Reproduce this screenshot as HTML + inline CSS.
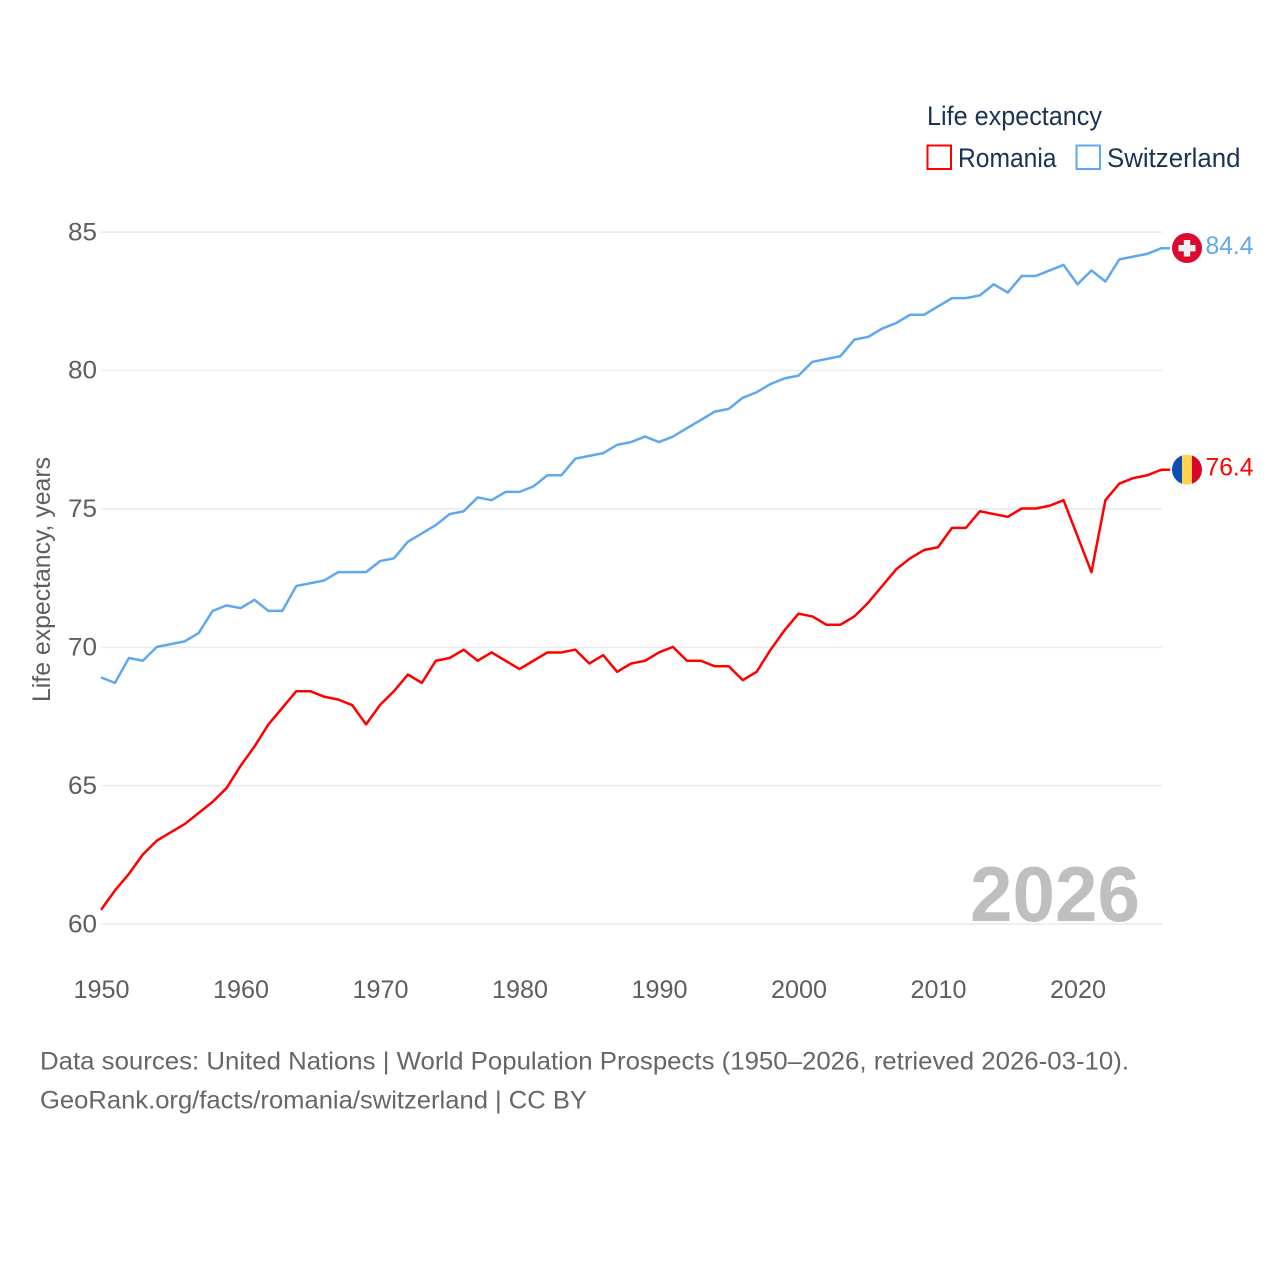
<!DOCTYPE html>
<html lang="en">
<head>
<meta charset="utf-8">
<title>Life expectancy: Romania and Switzerland</title>
<style>
html,body{margin:0;padding:0;background:#fff;width:1280px;height:1280px;overflow:hidden}
svg{display:block}
text{font-family:"Liberation Sans",sans-serif}
.tick{font-size:25px;fill:#5e5e5e}
.foot{font-size:25px;fill:#666}
.leg{font-size:27px;fill:#1a3354}
</style>
</head>
<body>
<svg id="chart" xmlns="http://www.w3.org/2000/svg" width="1280" height="1280" viewBox="0 0 1280 1280">
  <defs>
    <clipPath id="flag-clip-ro"><circle cx="1187" cy="469.6" r="15"/></clipPath>
  </defs>
  <rect x="0" y="0" width="1280" height="1280" fill="#fff"/>
  <g id="grid"></g>
  <text x="970" y="921" font-size="78" font-weight="700" fill="#bfbfbf" textLength="170" lengthAdjust="spacingAndGlyphs">2026</text>
  <g id="y-ticks"></g>
  <g id="x-ticks"></g>
  <text class="tick" transform="translate(50,702) rotate(-90)" textLength="245" lengthAdjust="spacingAndGlyphs">Life expectancy, years</text>
  <g id="series"></g>

  <g id="flag-ch">
    <circle cx="1187" cy="248" r="15" fill="#dc0a2e"/>
    <rect x="1178.5" y="245" width="17" height="6.4" fill="#f0f0f0"/>
    <rect x="1183.8" y="240" width="6.4" height="16.5" fill="#f0f0f0"/>
  </g>
  <g id="flag-ro" clip-path="url(#flag-clip-ro)">
    <rect x="1172" y="454" width="10" height="31" fill="#0b4fb3"/>
    <rect x="1182" y="454" width="10" height="31" fill="#ffd24f"/>
    <rect x="1192" y="454" width="10" height="31" fill="#d8042c"/>
  </g>

  <g>
    <text class="leg" x="927" y="125" textLength="175" lengthAdjust="spacingAndGlyphs">Life expectancy</text>
    <g>
      <rect x="927.5" y="145.5" width="23.5" height="23.5" fill="#fff" stroke="#ff0000" stroke-width="2"/>
      <text class="leg" x="958" y="167" textLength="98.5" lengthAdjust="spacingAndGlyphs">Romania</text>
    </g>
    <g>
      <rect x="1076.5" y="145.5" width="23.5" height="23.5" fill="#fff" stroke="#5fa8ee" stroke-width="2"/>
      <text class="leg" x="1107" y="167" textLength="133.5" lengthAdjust="spacingAndGlyphs">Switzerland</text>
    </g>
  </g>

  <text class="foot" x="40" y="1069.5" textLength="1089" lengthAdjust="spacingAndGlyphs">Data sources: United Nations | World Population Prospects (1950–2026, retrieved 2026-03-10).</text>
  <text class="foot" x="40" y="1108.5" textLength="547" lengthAdjust="spacingAndGlyphs">GeoRank.org/facts/romania/switzerland | CC BY</text>
</svg>
<script>
const firstYear = 1950;
const romaniaValues = [60.5,61.2,61.8,62.5,63.0,63.3,63.6,64.0,64.4,64.9,65.7,66.4,67.2,67.8,68.4,68.4,68.2,68.1,67.9,67.2,67.9,68.4,69.0,68.7,69.5,69.6,69.9,69.5,69.8,69.5,69.2,69.5,69.8,69.8,69.9,69.4,69.7,69.1,69.4,69.5,69.8,70.0,69.5,69.5,69.3,69.3,68.8,69.1,69.9,70.6,71.2,71.1,70.8,70.8,71.1,71.6,72.2,72.8,73.2,73.5,73.6,74.3,74.3,74.9,74.8,74.7,75.0,75.0,75.1,75.3,74.0,72.7,75.3,75.9,76.1,76.2,76.4];
const switzerlandValues = [68.9,68.7,69.6,69.5,70.0,70.1,70.2,70.5,71.3,71.5,71.4,71.7,71.3,71.3,72.2,72.3,72.4,72.7,72.7,72.7,73.1,73.2,73.8,74.1,74.4,74.8,74.9,75.4,75.3,75.6,75.6,75.8,76.2,76.2,76.8,76.9,77.0,77.3,77.4,77.6,77.4,77.6,77.9,78.2,78.5,78.6,79.0,79.2,79.5,79.7,79.8,80.3,80.4,80.5,81.1,81.2,81.5,81.7,82.0,82.0,82.3,82.6,82.6,82.7,83.1,82.8,83.4,83.4,83.6,83.8,83.1,83.6,83.2,84.0,84.1,84.2,84.4];
const yTickValues = [60,65,70,75,80,85];
const xTickValues = [1950,1960,1970,1980,1990,2000,2010,2020];

const NS = 'http://www.w3.org/2000/svg';
function xScale(year){ return 101 + (year - 1950) * 13.95; }
function yScale(v){ return 924.1 - (v - 60) * 27.68; }
function make(tag, parent){
  const el = document.createElementNS(NS, tag);
  parent.appendChild(el);
  return el;
}

const gridGroup = document.getElementById('grid');
const yTickGroup = document.getElementById('y-ticks');
yTickValues.forEach(function(v){
  const line = make('line', gridGroup);
  
  
  line.setAttribute('x1', 101);
  line.setAttribute('x2', 1162);
  line.setAttribute('y1', yScale(v));
  line.setAttribute('y2', yScale(v));
  line.setAttribute('stroke', '#ececec');
  line.setAttribute('stroke-width', '1.6');
  const t = make('text', yTickGroup);
  
  
  t.setAttribute('class', 'tick');
  t.setAttribute('x', 68);
  t.setAttribute('y', yScale(v) + 8.2);
  t.setAttribute('textLength', '29');
  t.setAttribute('lengthAdjust', 'spacingAndGlyphs');
  t.textContent = String(v);
});

const xTickGroup = document.getElementById('x-ticks');
xTickValues.forEach(function(y){
  const t = make('text', xTickGroup);
  
  
  t.setAttribute('class', 'tick');
  t.setAttribute('x', xScale(y) - 27.5);
  t.setAttribute('y', 998);
  t.setAttribute('textLength', '56');
  t.setAttribute('lengthAdjust', 'spacingAndGlyphs');
  t.textContent = String(y);
});

const seriesGroup = document.getElementById('series');
function drawSeries(values, color, lineName, labelName){
  const pts = values.map(function(v, i){
    return xScale(firstYear + i).toFixed(2) + ',' + (yScale(v) - 0.4).toFixed(2);
  });
  const last = values[values.length - 1];
  const lastX = xScale(firstYear + values.length - 1);
  pts.push((lastX + 9).toFixed(2) + ',' + (yScale(last) - 0.4).toFixed(2));
  const line = make('polyline', seriesGroup);
  
  
  line.setAttribute('points', pts.join(' '));
  line.setAttribute('fill', 'none');
  line.setAttribute('stroke', color);
  line.setAttribute('stroke-width', '2.5');
  line.setAttribute('stroke-linejoin', 'round');
  const t = make('text', seriesGroup);
  
  
  t.setAttribute('x', 1205.5);
  t.setAttribute('y', yScale(last) + 5.5);
  t.setAttribute('font-size', '25');
  t.setAttribute('fill', color);
  t.setAttribute('textLength', '48');
  t.setAttribute('lengthAdjust', 'spacingAndGlyphs');
  t.textContent = last.toFixed(1);
}
drawSeries(romaniaValues, '#ff0000', 'line-romania', 'end-label-romania');
drawSeries(switzerlandValues, '#5fa8ee', 'line-switzerland', 'end-label-switzerland');
</script>
</body>
</html>
